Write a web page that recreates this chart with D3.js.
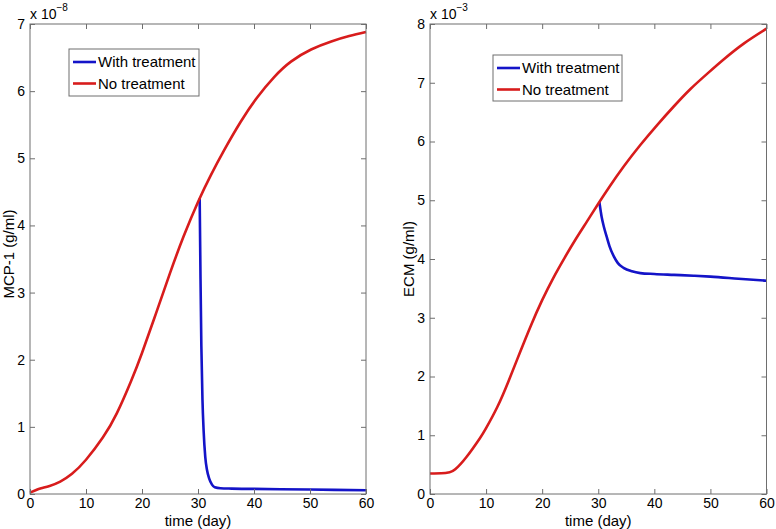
<!DOCTYPE html>
<html>
<head>
<meta charset="utf-8">
<script src="https://cdn.jsdelivr.net/npm/d3@7/dist/d3.min.js"></script>
<style>
  html, body { margin: 0; padding: 0; background: #fff; }
  svg { display: block; }
  text { font-family: "Liberation Sans", Arial, Helvetica, sans-serif; fill: #000; }
</style>
</head>
<body>
<svg id="chart" width="776" height="529"></svg>
<script>
// ---------------- data ----------------
const seriesNames = ["With treatment", "No treatment"];
const xTicks = [0, 10, 20, 30, 40, 50, 60];
const mcpTicks = [0, 1, 2, 3, 4, 5, 6, 7];
const ecmTicks = [0, 1, 2, 3, 4, 5, 6, 7, 8];

// MCP-1 (x 1e-8 g/ml)
const mcpNoT = [0, 1, 2, 3.5, 5.4, 7.5, 10, 13, 15.5, 18, 20, 22.5, 25, 27.4, 30, 32.3, 34.6, 37.6, 40.6, 43.6, 46.6, 50.2, 53.8, 57, 60];
const mcpNoV = [0.02, 0.055, 0.085, 0.12, 0.185, 0.3, 0.51, 0.84, 1.2, 1.67, 2.1, 2.69, 3.29, 3.83, 4.35, 4.75, 5.11, 5.54, 5.91, 6.21, 6.44, 6.62, 6.74, 6.82, 6.88];
const mcpWithT = [30.3, 30.45, 30.6, 30.8, 31.0, 31.3, 31.6, 32, 32.5, 33, 34, 36, 40, 50, 60];
const mcpWithV = [4.40, 3.2, 2.2, 1.4, 0.95, 0.55, 0.36, 0.23, 0.14, 0.1, 0.085, 0.08, 0.076, 0.066, 0.055];

// ECM (x 1e-3 g/ml)
const ecmNoT = [0, 2, 3.5, 4.5, 6.5, 8.9, 10, 12, 14, 16, 18, 20, 22, 24, 26, 28, 30, 32, 34.5, 37.5, 40.5, 43.5, 46.4, 49.5, 52.4, 56, 60];
const ecmNoV = [0.35, 0.352, 0.37, 0.42, 0.63, 0.95, 1.12, 1.48, 1.92, 2.40, 2.87, 3.30, 3.68, 4.02, 4.34, 4.64, 4.94, 5.23, 5.57, 5.94, 6.28, 6.6, 6.89, 7.16, 7.4, 7.67, 7.92];
const ecmWithT = [30.2, 30.6, 31, 31.5, 32, 32.8, 33.5, 34.5, 36, 37.5, 40, 43.5, 47, 50, 55, 60];
const ecmWithV = [4.97, 4.72, 4.55, 4.38, 4.22, 4.04, 3.93, 3.85, 3.79, 3.76, 3.745, 3.73, 3.715, 3.70, 3.665, 3.63];

// ---------------- drawing ----------------
const colors = ["#1414c8", "#d81c1c"];
const svg = d3.select("#chart");
const FONT = 15;
const TICKFONT = 14;

function zip(t, v) { return t.map((d, i) => ({ t: d, v: v[i] })); }

function panel(opts) {
  const { x0, x1, y0, y1, yMax, yTicks, ylabel, exp, labelX, labelY, legend, withT, withV, noT, noV } = opts;
  const x = d3.scaleLinear().domain([0, 60]).range([x0, x1]);
  const y = d3.scaleLinear().domain([0, yMax]).range([y1, y0]);
  const g = svg.append("g");
  const tickLen = 5;
  const axisColor = "#6e6e6e";

  // curves
  const blueLine = d3.line().x(d => x(d.t)).y(d => y(d.v)).curve(d3.curveMonotoneX);
  const redLine = d3.line().x(d => x(d.t)).y(d => y(d.v)).curve(d3.curveNatural);
  g.append("path").datum(zip(withT, withV)).attr("d", blueLine)
    .attr("fill", "none").attr("stroke", colors[0]).attr("stroke-width", 2.6).attr("stroke-linejoin", "round");
  g.append("path").datum(zip(noT, noV)).attr("d", redLine)
    .attr("fill", "none").attr("stroke", colors[1]).attr("stroke-width", 2.6).attr("stroke-linejoin", "round");

  // axes (ticks inside, mirrored)
  const bottom = g.append("g").attr("transform", `translate(0,${y1})`)
    .call(d3.axisBottom(x).tickValues(xTicks).tickSize(-tickLen).tickPadding(4.5).tickFormat(d3.format("d")));
  const top = g.append("g").attr("transform", `translate(0,${y0})`)
    .call(d3.axisTop(x).tickValues(xTicks).tickSize(-tickLen).tickFormat(""));
  const left = g.append("g").attr("transform", `translate(${x0},0)`)
    .call(d3.axisLeft(y).tickValues(yTicks).tickSize(-tickLen).tickPadding(5).tickFormat(d3.format("d")));
  const right = g.append("g").attr("transform", `translate(${x1},0)`)
    .call(d3.axisRight(y).tickValues(yTicks).tickSize(-tickLen).tickFormat(""));
  [bottom, top, left, right].forEach(a => {
    a.select(".domain").remove();
    a.selectAll("line").attr("stroke", axisColor);
    a.selectAll("text").attr("font-size", TICKFONT).attr("fill", "#000")
      .attr("font-family", '"Liberation Sans", Arial, sans-serif');
  });
  g.append("rect").attr("x", x0).attr("y", y0).attr("width", x1 - x0).attr("height", y1 - y0)
    .attr("fill", "none").attr("stroke", axisColor).attr("stroke-width", 1);

  // exponent label
  const ex = g.append("text").attr("x", x0).attr("y", 19).attr("font-size", 14);
  ex.append("tspan").text("x 10");
  ex.append("tspan").attr("font-size", 10).attr("dy", -8).text(exp);

  // axis labels
  g.append("text").attr("x", (x0 + x1) / 2).attr("y", 526).attr("text-anchor", "middle")
    .attr("font-size", FONT).text("time (day)");
  g.append("text").attr("transform", `translate(${labelX},${labelY}) rotate(-90)`)
    .attr("text-anchor", "middle").attr("font-size", FONT).text(ylabel);

  // legend
  const lg = g.append("g").attr("transform", `translate(${legend.x},${legend.y})`);
  lg.append("rect").attr("width", legend.w).attr("height", legend.h)
    .attr("fill", "#fff").attr("stroke", "#6e6e6e").attr("stroke-width", 1);
  seriesNames.forEach((name, i) => {
    const cy = 13 + i * 21.5;
    lg.append("line").attr("x1", 4).attr("x2", 27).attr("y1", cy).attr("y2", cy)
      .attr("stroke", colors[i]).attr("stroke-width", 2.6);
    lg.append("text").attr("x", 29).attr("y", cy + 5).attr("font-size", FONT).text(name);
  });
}

panel({
  x0: 30, x1: 366, y0: 24, y1: 494, yMax: 7, yTicks: mcpTicks, ylabel: "MCP-1 (g/ml)", exp: "\u22128",
  labelX: 14, labelY: 254, legend: { x: 69, y: 49, w: 130, h: 47 },
  withT: mcpWithT, withV: mcpWithV, noT: mcpNoT, noV: mcpNoV
});
panel({
  x0: 430, x1: 766.5, y0: 24, y1: 494, yMax: 8, yTicks: ecmTicks, ylabel: "ECM (g/ml)", exp: "\u22123",
  labelX: 414, labelY: 259, legend: { x: 493, y: 55, w: 129, h: 46 },
  withT: ecmWithT, withV: ecmWithV, noT: ecmNoT, noV: ecmNoV
});
</script>
</body>
</html>
